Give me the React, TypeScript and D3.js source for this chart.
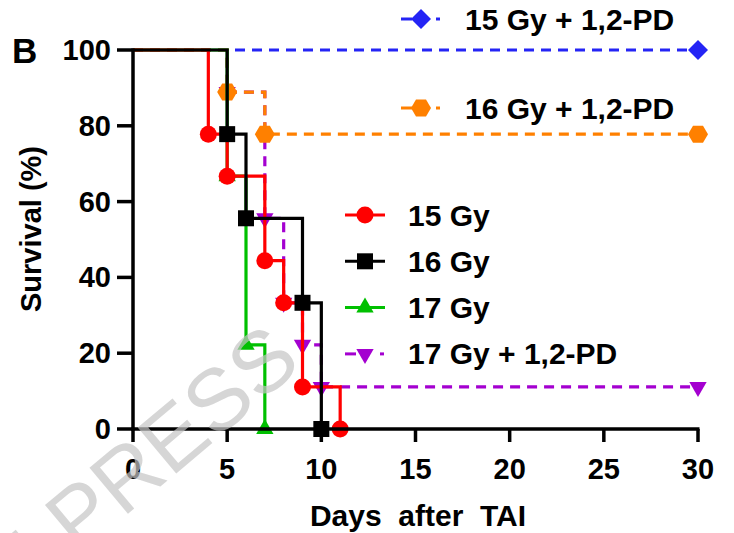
import React from 'react';
import * as d3 from 'd3';

// survival data (days after TAI, % surviving)
const days15 = [0, 4, 5, 7, 8, 9, 11];
const surv15 = [100, 77.8, 66.7, 44.4, 33.3, 11.1, 0];
const days16 = [0, 5, 6, 9, 10];
const surv16 = [100, 77.8, 55.6, 33.3, 0];
const days17 = [0, 5, 6, 7];
const surv17 = [100, 66.7, 22.2, 0];
const days17pd = [0, 5, 7, 8, 9, 10, 30];
const surv17pd = [100, 88.9, 55.6, 33.3, 22.2, 11.1, 11.1];
const days16pd = [0, 5, 7, 30];
const surv16pd = [100, 88.9, 77.8, 77.8];
const days15pd = [0, 30];
const surv15pd = [100, 100];

const xTicks = [0, 5, 10, 15, 20, 25, 30];
const yTicks = [0, 20, 40, 60, 80, 100];

const W = 734;
const H = 533;
const FONT = "'Liberation Sans', Arial, Helvetica, sans-serif";

const x = d3.scaleLinear().domain([0, 30]).range([133, 698]);
const y = d3.scaleLinear().domain([0, 100]).range([429, 50]);

// custom marker shapes
const diamondType = {
  draw(ctx: any, size: number) {
    const r = Math.sqrt(size) / 2;
    ctx.moveTo(0, -r);
    ctx.lineTo(r, 0);
    ctx.lineTo(0, r);
    ctx.lineTo(-r, 0);
    ctx.closePath();
  },
};
const hexType = {
  draw(ctx: any, size: number) {
    const r = Math.sqrt(size) / 2;
    ctx.moveTo(-r, 0);
    ctx.lineTo(-r / 2, -r * 0.85);
    ctx.lineTo(r / 2, -r * 0.85);
    ctx.lineTo(r, 0);
    ctx.lineTo(r / 2, r * 0.85);
    ctx.lineTo(-r / 2, r * 0.85);
    ctx.closePath();
  },
};

function markerPath(kind: string) {
  if (kind === 'circle') return d3.symbol(d3.symbolCircle, Math.PI * 8.5 * 8.5)()!;
  if (kind === 'square') return d3.symbol(d3.symbolSquare, 16 * 16)()!;
  if (kind === 'triangle' || kind === 'tridown') return d3.symbol(d3.symbolTriangle, 130)()!;
  if (kind === 'diamond') return d3.symbol(diamondType as any, 20 * 20)()!;
  return d3.symbol(hexType as any, 20 * 20)()!;
}

const series = [
  { name: '15 Gy + 1,2-PD', days: days15pd, surv: surv15pd, color: '#2424f5', marker: 'diamond', dashed: true },
  { name: '17 Gy + 1,2-PD', days: days17pd, surv: surv17pd, color: '#a400d0', marker: 'tridown', dashed: true },
  { name: '16 Gy + 1,2-PD', days: days16pd, surv: surv16pd, color: '#ff8000', marker: 'hex', dashed: true },
  { name: '17 Gy', days: days17, surv: surv17, color: '#00c000', marker: 'triangle', dashed: false },
  { name: '15 Gy', days: days15, surv: surv15, color: '#ff0000', marker: 'circle', dashed: false },
  { name: '16 Gy', days: days16, surv: surv16, color: '#000000', marker: 'square', dashed: false },
];

const topLegend = ['15 Gy + 1,2-PD', '16 Gy + 1,2-PD'];
const sideLegend = ['15 Gy', '16 Gy', '17 Gy', '17 Gy + 1,2-PD'];

const line = d3
  .line<[number, number]>()
  .x((d) => x(d[0]))
  .y((d) => y(d[1]))
  .curve(d3.curveStepAfter);

function Marker({ kind, cx, cy, color }: { kind: string; cx: number; cy: number; color: string }) {
  const rot = kind === 'tridown' ? ' rotate(180)' : '';
  return <path d={markerPath(kind)} transform={`translate(${cx},${cy})${rot}`} fill={color} />;
}

function LegendSample({ s, x0, cy }: { s: any; x0: number; cy: number }) {
  if (s.dashed) {
    return (
      <g>
        <line x1={x0} x2={x0 + 11} y1={cy} y2={cy} stroke={s.color} strokeWidth={3} />
        <line x1={x0 + 35} x2={x0 + 39} y1={cy} y2={cy} stroke={s.color} strokeWidth={3} />
        <Marker kind={s.marker} cx={x0 + 20} cy={cy} color={s.color} />
      </g>
    );
  }
  return (
    <g>
      <line x1={x0} x2={x0 + 40} y1={cy} y2={cy} stroke={s.color} strokeWidth={3} />
      <Marker kind={s.marker} cx={x0 + 20} cy={cy} color={s.color} />
    </g>
  );
}

export default function App() {
  const byName = (n: string) => series.find((s) => s.name === n)!;
  return (
    <svg
      width={W}
      height={H}
      style={{ position: 'absolute', left: 0, top: 0, background: '#fff' }}
      fontFamily={FONT}
    >
      {/* survival curves */}
      {series.map((s) => {
        const pts = s.days.map((d, i) => [d, s.surv[i]] as [number, number]);
        return (
          <g key={s.name}>
            <path
              d={line(pts)!}
              fill="none"
              stroke={s.color}
              strokeWidth={3.2}
              strokeDasharray={s.dashed ? '10,7' : undefined}
            />
            {pts.slice(1).map((p, i) => (
              <Marker key={i} kind={s.marker} cx={x(p[0])} cy={y(p[1])} color={s.color} />
            ))}
          </g>
        );
      })}

      {/* axes */}
      <g stroke="#000" strokeWidth={3.5}>
        <line x1={x(0)} x2={x(0)} y1={y(100) - 1.5} y2={y(0) + 1.5} />
        <line x1={x(0) - 1.5} x2={x(30) + 1.5} y1={y(0)} y2={y(0)} />
        {yTicks.map((t) => (
          <line key={'yt' + t} x1={x(0) - 16} x2={x(0)} y1={y(t)} y2={y(t)} />
        ))}
        {xTicks.map((t) => (
          <line key={'xt' + t} x1={x(t)} x2={x(t)} y1={y(0)} y2={y(0) + 13} />
        ))}
      </g>
      <g fontSize={29} fontWeight="bold" fill="#000">
        {yTicks.map((t) => (
          <text key={'yl' + t} x={x(0) - 22} y={y(t)} textAnchor="end" dominantBaseline="central">
            {t}
          </text>
        ))}
        {xTicks.map((t) => (
          <text key={'xl' + t} x={x(t)} y={y(0) + 40} textAnchor="middle" dominantBaseline="central">
            {t}
          </text>
        ))}
      </g>
      <text
        x={418}
        y={526}
        textAnchor="middle"
        fontSize={30}
        fontWeight="bold"
        style={{ whiteSpace: 'pre' }}
      >
        {'Days  after  TAI'}
      </text>
      <text
        transform="translate(31,229) rotate(-90)"
        textAnchor="middle"
        dominantBaseline="central"
        fontSize={29}
        fontWeight="bold"
      >
        Survival (%)
      </text>
      <text x={12} y={63} fontSize={35} fontWeight="bold">
        B
      </text>

      {/* legends */}
      {topLegend.map((n, i) => (
        <g key={n}>
          <LegendSample s={byName(n)} x0={401} cy={[19, 108][i]} />
          <text x={465} y={[19, 108][i]} dominantBaseline="central" fontSize={30} fontWeight="bold">
            {n}
          </text>
        </g>
      ))}
      {sideLegend.map((n, i) => (
        <g key={n}>
          <LegendSample s={byName(n)} x0={345} cy={215 + i * 46.3} />
          <text x={408} y={215 + i * 46.3} dominantBaseline="central" fontSize={30} fontWeight="bold">
            {n}
          </text>
        </g>
      ))}

      {/* watermark */}
      <text
        transform="translate(304,366) rotate(-40)"
        textAnchor="end"
        fontSize={87}
        fill="#c4c4c4"
        fillOpacity={0.7}
      >
        IN PRESS
      </text>
    </svg>
  );
}
